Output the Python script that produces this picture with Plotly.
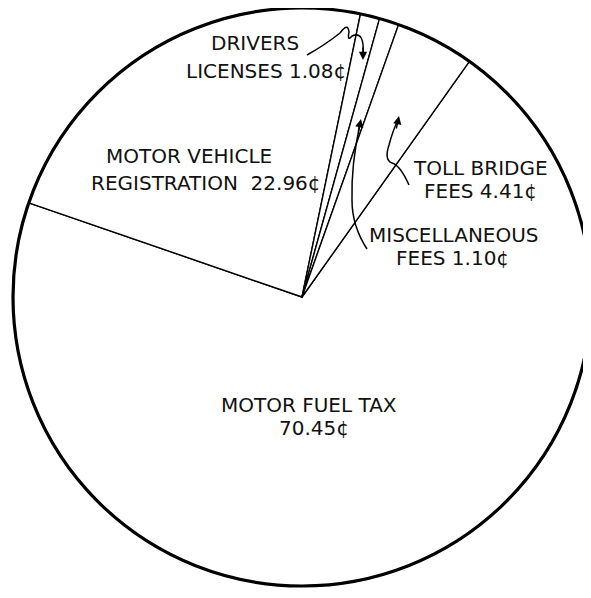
import plotly.graph_objects as go

# ---- data ----
categories = ["MOTOR FUEL TAX", "MOTOR VEHICLE REGISTRATION", "DRIVERS LICENSES",
              "MISCELLANEOUS FEES", "TOLL BRIDGE FEES"]
cents = [70.45, 22.96, 1.08, 1.10, 4.41]

label_lines = [
    ["MOTOR FUEL TAX", "70.45¢"],
    ["MOTOR VEHICLE", "REGISTRATION  22.96¢"],
    ["DRIVERS", "LICENSES 1.08¢"],
    ["MISCELLANEOUS", "FEES 1.10¢"],
    ["TOLL BRIDGE", "FEES 4.41¢"],
]

# ---- layout helpers: window pixel -> paper (page body has an 8px margin) ----
OFF = 8
W, H = 583, 590
def px(x, y):
    return (x - OFF) / W, 1 - (y - OFF) / H

fig = go.Figure()
dom_x = [5 / W, 1.0]
dom_y = [12 / H, 1.0]

fig.add_trace(go.Pie(
    labels=categories, values=cents, sort=False, direction="clockwise",
    rotation=35.4, textinfo="none", hoverinfo="label+value",
    marker=dict(colors=["white"] * len(cents), line=dict(color="black", width=1.4)),
    domain=dict(x=dom_x, y=dom_y), showlegend=False,
))
# thicker outer rim
fig.add_trace(go.Pie(
    labels=["rim"], values=[1], textinfo="none", hoverinfo="skip", sort=False,
    marker=dict(colors=["rgba(0,0,0,0)"], line=dict(color="black", width=3.2)),
    domain=dict(x=dom_x, y=dom_y), showlegend=False,
))

# label positions (window pixel centres), one per line
label_pos = [
    [(309, 405), (314, 428)],
    [(189, 156), (206, 183)],
    [(255, 43), (266, 71)],
    [(454, 235), (452, 258)],
    [(480, 168), (480, 191)],
]
annotations = []
for lines, poss in zip(label_lines, label_pos):
    for t, (x, y) in zip(lines, poss):
        xx, yy = px(x, y)
        annotations.append(dict(text=t, x=xx, y=yy, xref="paper", yref="paper",
                                showarrow=False, xanchor="center", yanchor="middle",
                                font=dict(family="DejaVu Sans", size=20, color="#111")))

# hand-drawn leader curves (window pixel coords)
curves = [
    [(307, 55), "Q", (325, 45), (340, 33), "Q", (348, 22), (349, 32), "Q", (347, 42), (352, 36), "Q", (365, 30), (363, 56)],
    [(367, 249), "Q", (352, 226), (352, 200), "Q", (351, 165), (360, 124)],
    [(409, 185), "Q", (400, 165), (392, 163), "Q", (384, 160), (389, 145), "Q", (393, 130), (398, 120)],
]
shapes = []
for c in curves:
    parts = []
    first = True
    for item in c:
        if item == "Q":
            parts.append("Q")
        else:
            x, y = px(*item)
            if first:
                parts.append(f"M {x:.5f},{y:.5f}")
                first = False
            else:
                parts.append(f"{x:.5f},{y:.5f}")
    shapes.append(dict(type="path", path=" ".join(parts), xref="paper", yref="paper",
                       line=dict(color="black", width=1.5)))

# arrow heads: (head x, head y, tail dx, tail dy)
heads = [(363, 60, 0, -14), (361, 119, -3, 14), (399, 116, -3, 14)]
for hx, hy, dx, dy in heads:
    xx, yy = px(hx, hy)
    annotations.append(dict(x=xx, y=yy, xref="paper", yref="paper", text="",
                            showarrow=True, ax=dx, ay=dy, arrowhead=2, arrowsize=1.1,
                            arrowwidth=1.5, arrowcolor="black"))

fig.update_layout(width=W, height=H, margin=dict(l=0, r=0, t=0, b=0),
                  paper_bgcolor="white", plot_bgcolor="white",
                  annotations=annotations, shapes=shapes, showlegend=False)
fig.write_html("out.html")
